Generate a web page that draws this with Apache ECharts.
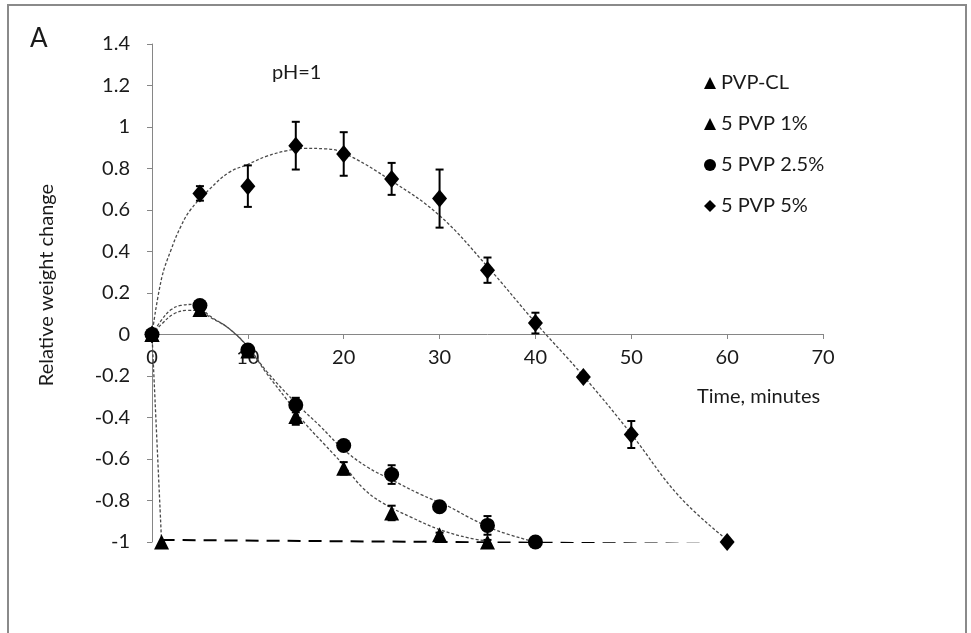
<!DOCTYPE html>
<html>
<head>
<meta charset="utf-8">
<script src="https://cdn.jsdelivr.net/npm/echarts@6/dist/echarts.min.js"></script>
<style>
html,body{margin:0;padding:0;background:#fff;}
#chart{width:971px;height:633px;}
</style>
</head>
<body>
<div id="chart"></div>
<script>
// measured points (time, relative weight change, error)
var timeCL = [0, 1];
var valCL = [0, -1];

var time1 = [0, 5, 10, 15, 20, 25, 30, 35];
var val1 = [0, 0.12, -0.08, -0.395, -0.645, -0.86, -0.965, -1.0];
var err1 = [0, 0.02, 0.02, 0.04, 0.03, 0.035, 0.01, 0.01];

var time25 = [0, 5, 10, 15, 20, 25, 30, 35, 40];
var val25 = [0, 0.14, -0.075, -0.34, -0.535, -0.675, -0.83, -0.92, -1.0];
var err25 = [0, 0.02, 0.02, 0.035, 0.02, 0.045, 0.02, 0.045, 0];

var time5 = [0, 5, 10, 15, 20, 25, 30, 35, 40, 45, 50, 60];
var val5 = [0, 0.68, 0.715, 0.91, 0.87, 0.75, 0.655, 0.31, 0.055, -0.205, -0.482, -1.0];
var err5 = [0, 0.035, 0.1, 0.115, 0.105, 0.077, 0.14, 0.061, 0.05, 0.01, 0.065, 0];

// trend curves
var trendCLX = [0, 1];
var trendCLY = [0, -1];
var trend1X = [0, 1, 2.3, 3.7, 5, 6, 8, 10, 12, 14, 16, 18, 20, 22, 24, 27, 30, 33, 35];
var trend1Y = [0, 0.05, 0.10, 0.116, 0.115, 0.085, 0.03, -0.06, -0.19, -0.31, -0.43, -0.53, -0.63, -0.74, -0.81, -0.88, -0.94, -0.98, -0.995];
var trend25X = [0, 1, 2, 3, 4.5, 6, 8, 10, 12, 15, 17.5, 20, 22.5, 25, 28, 31, 33, 36, 40];
var trend25Y = [0, 0.07, 0.12, 0.14, 0.145, 0.09, 0.03, -0.06, -0.18, -0.33, -0.44, -0.555, -0.64, -0.70, -0.77, -0.83, -0.88, -0.945, -1.0];
var trend5X = [0, 1, 2, 3, 4, 6, 8, 10, 12, 14, 16, 18, 20, 25, 30, 35, 40, 45, 50, 55, 60];
var trend5Y = [0, 0.27, 0.41, 0.52, 0.60, 0.70, 0.78, 0.82, 0.86, 0.885, 0.897, 0.895, 0.875, 0.74, 0.573, 0.327, 0.057, -0.2, -0.48, -0.78, -0.99];
var baseX = [1, 60];
var baseY = [-0.99, -1.01];

var names = ['PVP-CL', '5 PVP 1%', '5 PVP 2.5%', '5 PVP 5%'];

function pairs(xs, ys) {
	return xs.map(function (x, i) { return [x, ys[i]]; });
}
function errPoints(xs, ys, es) {
	var out = [];
	for (var i = 0; i < xs.length; i++) {
		if (es[i] > 0) out.push([xs[i], ys[i], es[i]]);
	}
	return out;
}

function renderErr(params, api) {
	var x = api.value(0), y = api.value(1), e = api.value(2);
	var hi = api.coord([x, y + e]);
	var lo = api.coord([x, y - e]);
	var w = 4;
	var st = { stroke: '#000', lineWidth: 2 };
	return {
		type: 'group',
		children: [
			{ type: 'line', shape: { x1: hi[0], y1: hi[1], x2: lo[0], y2: lo[1] }, style: st },
			{ type: 'line', shape: { x1: hi[0] - w, y1: hi[1], x2: hi[0] + w, y2: hi[1] }, style: st },
			{ type: 'line', shape: { x1: lo[0] - w, y1: lo[1], x2: lo[0] + w, y2: lo[1] }, style: st }
		]
	};
}

function trend(name, xs, ys) {
	return {
		name: name, type: 'line', data: pairs(xs, ys), smooth: 0.4,
		showSymbol: false, silent: true, z: 1,
		lineStyle: { color: '#4a4a4a', width: 1.3, type: [3, 2] }
	};
}

function errSeries(xs, ys, es) {
	return { type: 'custom', renderItem: renderErr, data: errPoints(xs, ys, es), z: 2, silent: true };
}

function dots(name, sym, size, xs, ys) {
	return {
		name: name, type: 'scatter', symbol: sym, symbolSize: size, z: 3,
		data: pairs(xs, ys), itemStyle: { color: '#000', opacity: 1 }
	};
}

var font = 'Lato, "Open Sans", sans-serif';
var txt = '#1a1a1a';

var myChart = echarts.init(document.getElementById('chart'));
var option = {
	animation: false,
	backgroundColor: '#fff',
	grid: { left: 152, right: 148, top: 44, bottom: 91 },
	xAxis: {
		type: 'value', min: 0, max: 70, interval: 10,
		offset: -208,
		axisLine: { onZero: false, lineStyle: { color: '#868686', width: 1 } },
		axisTick: { show: true, length: 5, lineStyle: { color: '#868686' } },
		axisLabel: { margin: 14, fontSize: 20, fontFamily: font, color: txt },
		splitLine: { show: false }
	},
	yAxis: {
		type: 'value', min: -1, max: 1.4, interval: 0.2,
		axisLine: { show: true, onZero: false, lineStyle: { color: '#868686', width: 1 } },
		axisTick: { show: true, length: 5, lineStyle: { color: '#868686' } },
		axisLabel: {
			margin: 22, fontSize: 20, fontFamily: font, color: txt,
			formatter: function (v) { return String(+v.toFixed(1)); }
		},
		splitLine: { show: false }
	},
	legend: {
		orient: 'vertical', left: 699, top: 68, itemGap: 21,
		itemWidth: 12, itemHeight: 12,
		textStyle: { fontSize: 20, fontFamily: font, color: txt, lineHeight: 20 },
		itemStyle: { color: '#000', opacity: 1 },
		data: [
			{ name: names[0], icon: 'triangle' },
			{ name: names[1], icon: 'triangle' },
			{ name: names[2], icon: 'circle' },
			{ name: names[3], icon: 'diamond' }
		]
	},
	graphic: [
		{ type: 'rect', shape: { x: 8, y: 5, width: 958, height: 660 }, style: { fill: 'none', stroke: '#8a8a8a', lineWidth: 2 }, silent: true },
		{ type: 'text', left: 30, top: 26, style: { text: 'A', fontSize: 26, fontFamily: font, fill: txt } },
		{ type: 'text', left: 272, top: 63, style: { text: 'pH=1', fontSize: 20, fontFamily: font, fill: txt } },
		{ type: 'text', left: 697, top: 387, style: { text: 'Time, minutes', fontSize: 20, fontFamily: font, fill: txt } },
		{ type: 'text', x: 47, y: 285, rotation: Math.PI / 2,
			style: { text: 'Relative weight change', fontSize: 20, fontFamily: font, fill: txt, align: 'center', verticalAlign: 'middle' } }
	],
	series: [
		trend('tCL', trendCLX, trendCLY),
		trend('t1', trend1X, trend1Y),
		trend('t25', trend25X, trend25Y),
		trend('t5', trend5X, trend5Y),
		{
			name: 'base', type: 'line', data: pairs(baseX, baseY), showSymbol: false, silent: true, z: 1,
			lineStyle: { color: '#000', width: 2, type: [13, 8] }
		},
		errSeries(time1, val1, err1),
		errSeries(time25, val25, err25),
		errSeries(time5, val5, err5),
		dots(names[0], 'triangle', 15, timeCL, valCL),
		dots(names[1], 'triangle', 15, time1, val1),
		dots(names[2], 'circle', 15, time25, val25),
		dots(names[3], 'diamond', [15, 18], time5, val5)
	]
};
myChart.setOption(option);
</script>
</body>
</html>
